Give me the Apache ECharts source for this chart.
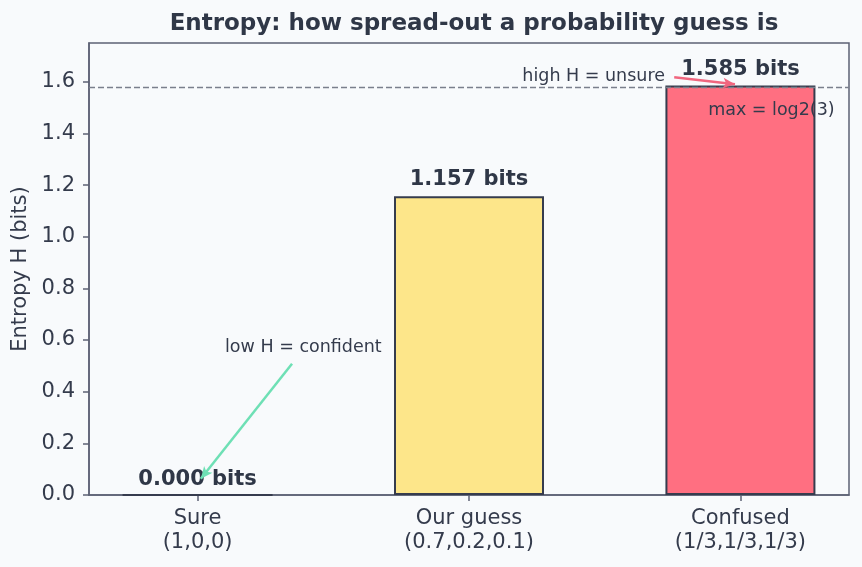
<!DOCTYPE html>
<html>
<head>
<meta charset="utf-8">
<script src="https://cdn.jsdelivr.net/npm/echarts@6/dist/echarts.min.js"></script>
<style>
  html, body { margin: 0; padding: 0; background: #f8fafc; }
  #chart { width: 862px; height: 567px; }
</style>
</head>
<body>
<div id="chart"></div>
<script>
const categories = ["Sure\n(1,0,0)", "Our guess\n(0.7,0.2,0.1)", "Confused\n(1/3,1/3,1/3)"];
const positions = [0, 1, 2];
const entropyBits = [0.0, 1.157, 1.585];
const maxEntropy = 1.585;
const yTicks = [0, 0.2, 0.4, 0.6, 0.8, 1.0, 1.2, 1.4, 1.6];
const barColors = ["#fde68a", "#fde68a", "#ff6f81"];

const textDark = "#343b4c";
const frame = "#5c6174";

const chart = echarts.init(document.getElementById("chart"));

chart.setOption({
  backgroundColor: "#f8fafc",
  animation: false,
  textStyle: { fontFamily: "DejaVu Sans" },
  title: {
    text: "Entropy: how spread-out a probability guess is",
    left: 469,
    top: 8,
    textAlign: "center",
    textStyle: { fontSize: 23, fontWeight: "bold", color: "#2f3747" },
  },
  grid: {
    left: 89,
    right: 13,
    top: 43,
    bottom: 72,
    outerBoundsMode: "none",
    containLabel: false,
    show: true,
    borderColor: frame,
    borderWidth: 1.5,
    backgroundColor: "transparent",
  },
  xAxis: {
    type: "value",
    min: -0.4,
    max: 2.4,
    splitLine: { show: false },
    axisLine: { show: true, onZero: false, lineStyle: { color: frame, width: 1.5 } },
    axisTick: { show: true, customValues: positions, length: 6, lineStyle: { color: frame, width: 1.5 } },
    axisLabel: {
      customValues: positions,
      formatter: (v) => categories[Math.round(v)],
      color: textDark,
      fontSize: 21,
      lineHeight: 24,
      margin: 12,
    },
  },
  yAxis: {
    type: "value",
    min: 0,
    max: 1.75,
    name: "Entropy H (bits)",
    nameLocation: "middle",
    nameGap: 55,
    nameTextStyle: { color: textDark, fontSize: 21 },
    splitLine: { show: false },
    axisLine: { show: true, onZero: false, lineStyle: { color: frame, width: 1.5 } },
    axisTick: { show: true, customValues: yTicks, length: 6, lineStyle: { color: frame, width: 1.5 } },
    axisLabel: {
      customValues: yTicks,
      formatter: (v) => v.toFixed(1),
      color: textDark,
      fontSize: 21,
      margin: 14,
    },
  },
  series: [
    {
      type: "bar",
      barWidth: 150,
      data: entropyBits.map((v, i) => ({
        value: [positions[i], v],
        itemStyle: { color: barColors[i], borderColor: "#363c4e", borderWidth: 2 },
        label: { distance: i === 0 ? 4 : 6 },
      })),
      label: {
        show: true,
        position: "top",
        formatter: (p) => p.value[1].toFixed(3) + " bits",
        fontSize: 21,
        fontWeight: "bold",
        color: "#2f3747",
      },
      markLine: {
        silent: true,
        symbol: "none",
        label: { show: false },
        data: [
          { yAxis: maxEntropy, lineStyle: { color: "#7a7f8c", type: [6, 3], width: 1.4 } },
          [
            { coord: [0.348, 0.508], symbol: "none" },
            { coord: [0.012, 0.063], symbol: "arrow", symbolSize: [8, 12], lineStyle: { color: "#6ee0b5", width: 2.5, type: "solid" } },
          ],
          [
            { coord: [1.756, 1.617], symbol: "none" },
            { coord: [1.98, 1.59], symbol: "arrow", symbolSize: [8, 12], lineStyle: { color: "#f0667f", width: 2.5, type: "solid" } },
          ],
        ],
      },
      markPoint: {
        silent: true,
        symbol: "circle",
        symbolSize: 0,
        itemStyle: { color: "transparent" },
        data: [
          {
            coord: [0.101, 0.57],
            label: { show: true, formatter: "low H = confident", position: [0, 0], align: "left", verticalAlign: "middle", fontSize: 17.5, color: textDark },
          },
          {
            coord: [1.722, 1.622],
            label: { show: true, formatter: "high H = unsure", position: [0, 0], align: "right", verticalAlign: "middle", fontSize: 17.5, color: textDark },
          },
          {
            coord: [1.881, 1.487],
            label: { show: true, formatter: "max = log2(3)", position: [0, 0], align: "left", verticalAlign: "middle", fontSize: 17.5, color: textDark },
          },
        ],
      },
    },
  ],
});
</script>
</body>
</html>
